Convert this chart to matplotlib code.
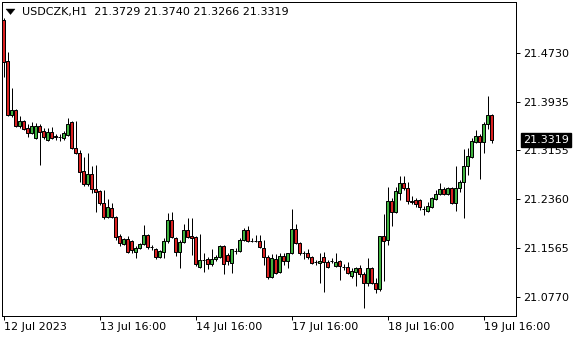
import matplotlib
matplotlib.use("Agg")
import matplotlib.pyplot as plt
from matplotlib.patches import Rectangle, Polygon
from matplotlib.transforms import blended_transform_factory
import numpy as np

# ---- data ----
symbol_title = "USDCZK,H1  21.3729 21.3740 21.3266 21.3319"
x_tick_bars = [0, 24, 48, 72, 96, 120]
x_tick_labels = ["12 Jul 2023", "13 Jul 16:00", "14 Jul 16:00",
                 "17 Jul 16:00", "18 Jul 16:00", "19 Jul 16:00"]
y_ticks = [21.4730, 21.3935, 21.3155, 21.2360, 21.1565, 21.0770]
last_price = 21.3319

opens = [21.5264, 21.4599, 21.3723, 21.3804, 21.3544, 21.3625, 21.3511, 21.3430, 21.3349, 21.3544,
         21.3463, 21.3317, 21.3446, 21.3365, 21.3365, 21.3349, 21.3398, 21.3609, 21.3187, 21.3106,
         21.2814, 21.2603, 21.2765, 21.2522, 21.2490, 21.2294, 21.2067, 21.2213, 21.2067, 21.1760,
         21.1630, 21.1711, 21.1679, 21.1500, 21.1565, 21.1630, 21.1776, 21.1581, 21.1549, 21.1419,
         21.1500, 21.1679, 21.2019, 21.1727, 21.1500, 21.1662, 21.1857, 21.1760, 21.1744, 21.1256,
         21.1370, 21.1386, 21.1305, 21.1386, 21.1419, 21.1598, 21.1451, 21.1321, 21.1516, 21.1516,
         21.1695, 21.1857, 21.1679, 21.1679, 21.1679, 21.1565, 21.1419, 21.1094, 21.1386, 21.1175,
         21.1435, 21.1354, 21.1484, 21.1873, 21.1646, 21.1484, 21.1484, 21.1419, 21.1338, 21.1321,
         21.1419, 21.1338, 21.1354, 21.1273, 21.1354, 21.1256, 21.1256, 21.1111, 21.1175, 21.1240,
         21.1143, 21.0997, 21.1240, 21.0997, 21.0900, 21.1760, 21.1695, 21.2327, 21.2149, 21.2457,
         21.2619, 21.2538, 21.2327, 21.2343, 21.2343, 21.2197, 21.2165, 21.2230, 21.2360, 21.2441,
         21.2522, 21.2441, 21.2538, 21.2294, 21.2538, 21.2636, 21.2895, 21.3041, 21.3284, 21.3382,
         21.3284, 21.3576, 21.3729]
highs = [21.5296, 21.4745, 21.4160, 21.3820, 21.3707, 21.3641, 21.3576, 21.3609, 21.3592, 21.3576,
         21.3511, 21.3511, 21.3527, 21.3414, 21.3414, 21.3463, 21.3674, 21.3625, 21.3625, 21.3155,
         21.3041, 21.3106, 21.2895, 21.2911, 21.2506, 21.2506, 21.2360, 21.2294, 21.2084, 21.1792,
         21.1727, 21.1760, 21.1695, 21.1598, 21.1646, 21.1938, 21.1792, 21.1614, 21.1565, 21.1532,
         21.1727, 21.2132, 21.2149, 21.1744, 21.1695, 21.1954, 21.2051, 21.2051, 21.1760, 21.1792,
         21.1484, 21.1419, 21.1549, 21.1451, 21.1614, 21.1614, 21.1484, 21.1549, 21.1565, 21.1727,
         21.1890, 21.1922, 21.1727, 21.1776, 21.1776, 21.1695, 21.1451, 21.1467, 21.1467, 21.1484,
         21.1484, 21.1484, 21.2197, 21.1954, 21.1662, 21.1516, 21.1549, 21.1435, 21.1370, 21.1484,
         21.1500, 21.1370, 21.1402, 21.1484, 21.1370, 21.1305, 21.1338, 21.1240, 21.1256, 21.1289,
         21.1175, 21.1402, 21.1256, 21.1078, 21.1760, 21.2116, 21.2555, 21.2376, 21.2555, 21.2733,
         21.2733, 21.2636, 21.2408, 21.2376, 21.2360, 21.2246, 21.2311, 21.2392, 21.2506, 21.2619,
         21.2555, 21.2555, 21.2555, 21.2895, 21.2668, 21.3171, 21.3187, 21.3349, 21.3479, 21.3414,
         21.3609, 21.4031, 21.3740]
lows = [21.4338, 21.3707, 21.3690, 21.3527, 21.3511, 21.3479, 21.3365, 21.3414, 21.3333, 21.2911,
        21.3333, 21.3301, 21.3333, 21.3317, 21.3301, 21.3317, 21.3382, 21.3171, 21.3090, 21.2636,
        21.2571, 21.2571, 21.2457, 21.2149, 21.2262, 21.2035, 21.2051, 21.2051, 21.1695, 21.1598,
        21.1614, 21.1484, 21.1484, 21.1402, 21.1549, 21.1614, 21.1549, 21.1532, 21.1386, 21.1402,
        21.1402, 21.1646, 21.1727, 21.1435, 21.1240, 21.1646, 21.1727, 21.1451, 21.1273, 21.1240,
        21.1175, 21.1224, 21.1273, 21.1354, 21.1402, 21.1143, 21.1289, 21.1159, 21.1467, 21.1500,
        21.1679, 21.1662, 21.1662, 21.1662, 21.1565, 21.1289, 21.1062, 21.1078, 21.1143, 21.1159,
        21.1289, 21.1240, 21.1467, 21.1630, 21.1451, 21.1386, 21.1386, 21.1305, 21.1289, 21.0997,
        21.0851, 21.1240, 21.1321, 21.1256, 21.1046, 21.1208, 21.1143, 21.1078, 21.0948, 21.1094,
        21.0591, 21.0948, 21.0981, 21.0835, 21.0867, 21.1030, 21.1614, 21.1922, 21.2132, 21.2343,
        21.2506, 21.2278, 21.2278, 21.2230, 21.2181, 21.2100, 21.2149, 21.2213, 21.2343, 21.2425,
        21.2425, 21.2425, 21.2278, 21.2165, 21.2474, 21.2051, 21.2749, 21.3025, 21.3268, 21.2684,
        21.3106, 21.3495, 21.3266]
closes = [21.4583, 21.3723, 21.3804, 21.3544, 21.3625, 21.3495, 21.3430, 21.3544, 21.3544, 21.3446,
          21.3365, 21.3446, 21.3349, 21.3382, 21.3365, 21.3430, 21.3576, 21.3187, 21.3106, 21.2798,
          21.2603, 21.2765, 21.2522, 21.2474, 21.2294, 21.2067, 21.2230, 21.2067, 21.1744, 21.1646,
          21.1711, 21.1500, 21.1532, 21.1565, 21.1630, 21.1776, 21.1581, 21.1581, 21.1419, 21.1516,
          21.1679, 21.2019, 21.1744, 21.1500, 21.1662, 21.1857, 21.1744, 21.1727, 21.1305, 21.1370,
          21.1370, 21.1305, 21.1386, 21.1419, 21.1598, 21.1305, 21.1354, 21.1549, 21.1516, 21.1695,
          21.1857, 21.1679, 21.1679, 21.1679, 21.1581, 21.1419, 21.1094, 21.1402, 21.1159, 21.1435,
          21.1354, 21.1484, 21.1873, 21.1646, 21.1484, 21.1484, 21.1419, 21.1321, 21.1338, 21.1354,
          21.1338, 21.1256, 21.1354, 21.1338, 21.1273, 21.1256, 21.1159, 21.1192, 21.1240, 21.1143,
          21.0997, 21.1240, 21.0997, 21.0900, 21.1760, 21.1679, 21.2327, 21.2149, 21.2490, 21.2619,
          21.2538, 21.2327, 21.2311, 21.2278, 21.2230, 21.2197, 21.2246, 21.2376, 21.2441, 21.2522,
          21.2441, 21.2538, 21.2294, 21.2538, 21.2636, 21.2895, 21.3057, 21.3301, 21.3382, 21.3284,
          21.3576, 21.3730, 21.3319]

# ---- figure ----
W, H = 580, 340
fig = plt.figure(figsize=(W / 100, H / 100), dpi=100)
fig.patch.set_facecolor("white")
ax = fig.add_axes([2 / W, 24 / H, 514 / W, 314 / H])
ax.set_facecolor("white")

bull = "#3fb33f"
bear = "#d92020"
body_w = 0.55
px = 0.72  # 1 pixel in points

x = np.arange(len(opens))
for i, o, h, l, c in zip(x, opens, highs, lows, closes):
    ax.vlines(i, l, h, color="black", lw=px, zorder=2)
    if abs(c - o) < 1e-9:
        ax.hlines(o, i - body_w / 2 - 0.12, i + body_w / 2 + 0.12, color="black", lw=px, zorder=3)
    else:
        col = bull if c > o else bear
        ax.add_patch(Rectangle((i - body_w / 2, min(o, c)), body_w, abs(c - o),
                               facecolor=col, edgecolor="black", lw=px, zorder=3))

ax.set_xlim(-0.375, 128.125)
ax.set_ylim(21.0462, 21.5556)

for s in ax.spines.values():
    s.set_color("black")
    s.set_linewidth(px)

ax.yaxis.tick_right()
ax.set_yticks(y_ticks)
ax.set_yticklabels([f"{v:.4f}" for v in y_ticks])
ax.tick_params(axis="y", direction="out", length=3, width=px, pad=2.2,
               labelsize=8, colors="black")

ax.set_xticks(x_tick_bars)
ax.set_xticklabels(x_tick_labels)
ax.tick_params(axis="x", direction="out", length=3, width=px, pad=1.5,
               labelsize=8, colors="black")
for lbl in ax.get_xticklabels():
    lbl.set_horizontalalignment("left")
    lbl.set_x(lbl.get_position()[0])

# current price label
trans = blended_transform_factory(ax.transAxes, ax.transData)
ax.text(1.0 + 7 / 514, last_price, f"{last_price:.4f}", transform=trans,
        ha="left", va="center", fontsize=8, color="white", zorder=10, clip_on=False,
        bbox=dict(boxstyle="square,pad=0.18", facecolor="black", edgecolor="black"))

# title and triangle
fig.text(22 / W, 1 - 12.5 / H, symbol_title, ha="left", va="center", fontsize=8, color="#000000")
tri = Polygon([(6 / W, 1 - 9 / H), (15 / W, 1 - 9 / H), (10.5 / W, 1 - 14.5 / H)],
              closed=True, transform=fig.transFigure, facecolor="black", edgecolor="black", lw=0.3)
fig.add_artist(tri)

fig.savefig("out.png", dpi=100, facecolor="white")
